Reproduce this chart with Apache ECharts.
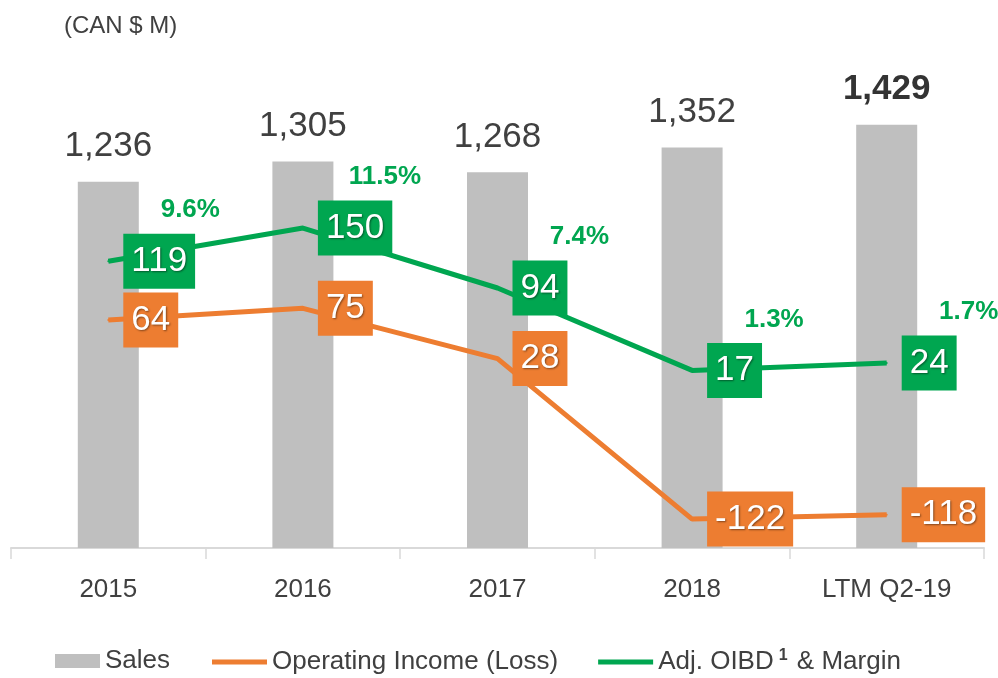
<!DOCTYPE html>
<html>
<head>
<meta charset="utf-8">
<script src="https://cdn.jsdelivr.net/npm/echarts@6/dist/echarts.min.js"></script>
<style>
  html, body { margin: 0; padding: 0; background: #fff; }
  #chartBox { width: 998px; height: 678px; }
</style>
</head>
<body>
<div id="chartBox"></div>
<script>
// values
var categories = ['2015', '2016', '2017', '2018', 'LTM Q2-19'];
var sales = [1236, 1305, 1268, 1352, 1429];
var opIncome = [64, 75, 28, -122, -118];
var adjOibd = [119, 150, 94, 17, 24];
var margin = ['9.6%', '11.5%', '7.4%', '1.3%', '1.7%'];

var FONT = '"Liberation Sans", Arial, sans-serif';
var GRAY = '#bfbfbf', ORANGE = '#ed7d31', GREEN = '#00a650', TEXT = '#404040';

var chart = echarts.init(document.getElementById('chartBox'));

// last bar label is bold
var salesData = sales.map(function (v, i) {
    if (i === sales.length - 1) {
        return { value: v, label: { fontWeight: 'bold', color: '#333' } };
    }
    return v;
});

function boxLabel(color) {
    return {
        show: true,
        position: 'right',
        distance: 14,
        align: 'left',
        verticalAlign: 'middle',
        backgroundColor: color,
        color: '#fff',
        fontFamily: FONT,
        fontSize: 35,
        padding: [11, 8, 9, 8],
        textShadowColor: 'rgba(0,0,0,0.45)',
        textShadowBlur: 2,
        textShadowOffsetX: 1,
        textShadowOffsetY: 1
    };
}

var option = {
    animation: false,
    title: {
        text: '(CAN $ M)',
        left: 59,
        top: 9,
        textStyle: { fontFamily: FONT, fontSize: 24, fontWeight: 'normal', color: TEXT }
    },
    legend: [{
        data: [{ name: 'Sales', icon: 'rect' }],
        left: 50,
        top: 643,
        itemWidth: 45,
        itemHeight: 14,
        textStyle: { fontFamily: FONT, fontSize: 26, color: TEXT }
    }, {
        data: [{ name: 'Operating Income (Loss)', icon: 'rect' }, { name: 'Adj. OIBD & Margin', icon: 'rect' }],
        left: 207,
        top: 643,
        itemWidth: 55,
        itemHeight: 5,
        itemGap: 40,
        formatter: function (name) {
            if (name === 'Adj. OIBD & Margin') return 'Adj. OIBD{sup|1} & Margin';
            return name;
        },
        textStyle: {
            fontFamily: FONT, fontSize: 26, color: TEXT,
            rich: { sup: { fontFamily: FONT, fontSize: 16, fontWeight: 'bold', color: TEXT, padding: [0, 2, 12, 5] } }
        }
    }],
    grid: { left: 11, right: 14, top: 74, bottom: 130, containLabel: false },
    xAxis: {
        type: 'category',
        data: categories,
        axisLine: { lineStyle: { color: '#d9d9d9', width: 2 } },
        axisTick: { show: true, length: 11, lineStyle: { color: '#d9d9d9', width: 1.5 } },
        axisLabel: { fontFamily: FONT, fontSize: 26, color: TEXT, margin: 29 }
    },
    yAxis: [{
        type: 'value', min: 0, max: 1600, show: false, splitLine: { show: false }
    }, {
        type: 'value', min: -149, max: 294, show: false, splitLine: { show: false }
    }],
    series: [{
        name: 'Sales',
        type: 'bar',
        data: salesData,
        barWidth: 61,
        itemStyle: { color: GRAY },
        label: {
            show: true,
            position: 'top',
            distance: 18,
            fontFamily: FONT,
            fontSize: 35,
            color: TEXT,
            formatter: function (p) { return p.value.toLocaleString('en-US'); }
        }
    }, {
        name: 'Operating Income (Loss)',
        type: 'line',
        yAxisIndex: 1,
        data: opIncome,
        symbol: 'circle',
        symbolSize: 2,
        lineStyle: { color: ORANGE, width: 5 },
        itemStyle: { color: ORANGE },
        label: boxLabel(ORANGE),
        z: 3
    }, {
        name: 'Adj. OIBD & Margin',
        type: 'line',
        yAxisIndex: 1,
        data: adjOibd,
        symbol: 'circle',
        symbolSize: 2,
        lineStyle: { color: GREEN, width: 5 },
        itemStyle: { color: GREEN },
        label: boxLabel(GREEN),
        z: 4
    }, {
        // margin % text floating above-right of each OIBD point
        name: 'margin',
        type: 'scatter',
        yAxisIndex: 1,
        data: adjOibd,
        symbolSize: 1,
        itemStyle: { color: 'rgba(0,0,0,0)', opacity: 1 },
        silent: true,
        label: {
            show: true,
            position: 'inside',
            offset: [82, -51],
            fontFamily: FONT,
            fontSize: 26,
            fontWeight: 'bold',
            color: GREEN,
            formatter: function (p) { return margin[p.dataIndex]; }
        },
        z: 5
    }]
};

chart.setOption(option);
</script>
</body>
</html>
